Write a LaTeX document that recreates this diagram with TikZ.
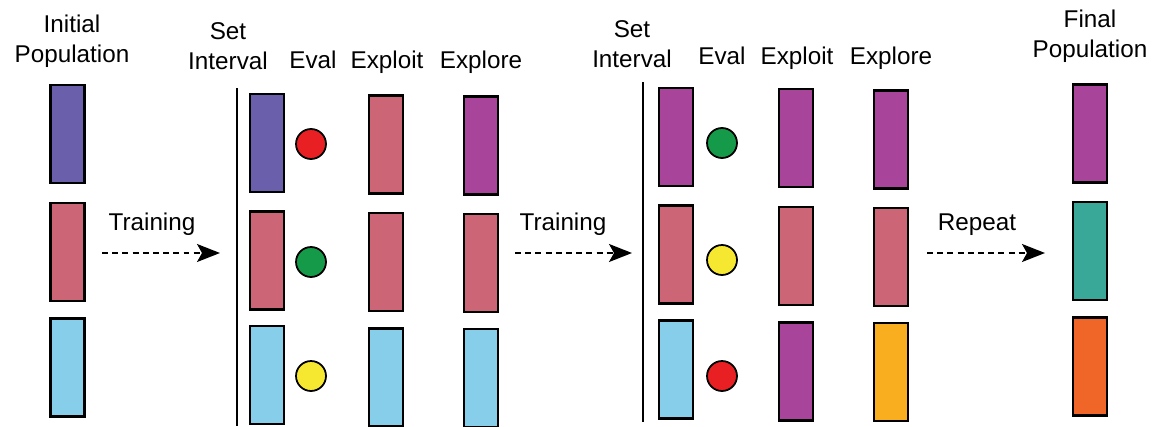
\documentclass[tikz,border=0pt]{standalone}
\usepackage{fontspec}
\setmainfont{Liberation Sans}
\usepackage{tikz}
\usetikzlibrary{positioning,arrows.meta}
\definecolor{popblue}{RGB}{106,95,170}
\definecolor{poprose}{RGB}{204,102,119}
\definecolor{popsky}{RGB}{135,206,235}
\definecolor{poppurple}{RGB}{168,68,154}
\definecolor{popteal}{RGB}{58,168,152}
\definecolor{poporange}{RGB}{240,102,40}
\definecolor{popamber}{RGB}{249,174,31}
\definecolor{evalred}{RGB}{232,32,36}
\definecolor{evalgreen}{RGB}{20,154,72}
\definecolor{evalyellow}{RGB}{246,232,48}

\tikzset{
  member/.style={draw, line width=1.2pt, minimum width=0.68cm,
    minimum height=1.96cm, inner sep=0pt, fill=#1},
  score/.style={circle, draw, line width=1pt, minimum size=0.6cm,
    inner sep=0pt, fill=#1},
  head/.style={font=\fontsize{13.8}{17}\selectfont, inner sep=0pt, align=center},
  flow/.style={dashed, dash pattern=on 3.4pt off 2.4pt, line width=0.9pt,
    -{Stealth[length=0.46cm, width=0.36cm, inset=0.1cm]}},
}

\begin{document}
\begin{tikzpicture}[x=0.02cm, y=-0.02cm]
\useasboundingbox (0,0) rectangle (1152,426);

% headings
\node[head, anchor=south] (hInit) at (72,68) {Initial\\Population};
\node[head, anchor=south] (hSetA) at (228,70) {Set\\Interval};
\node[head, anchor=base] (hEvalA) at (313,68) {Eval};
\node[head, anchor=base] (hExploitA) at (387,68) {Exploit};
\node[head, anchor=base] (hExploreA) at (481,68) {Explore};
\node[head, anchor=south] (hSetB) at (632,68) {Set\\Interval};
\node[head, anchor=base] (hEvalB) at (722,64) {Eval};
\node[head, anchor=base] (hExploitB) at (797,64) {Exploit};
\node[head, anchor=base] (hExploreB) at (891,64) {Explore};
\node[head, anchor=south] (hFinal) at (1090,63) {Final\\Population};

% initial population
\node[member=popblue] (i1) at (67.5,134) {};
\node[member=poprose] (i2) at (67.5,252) {};
\node[member=popsky] (i3) at (67.5,367.5) {};

% first interval
\draw[line width=0.8pt] (237,88) -- (237,426);
\node[member=popblue] (a1) at (267,143) {};
\node[member=poprose] (a2) at (267,260.5) {};
\node[member=popsky] (a3) at (267,375) {};
\node[score=evalred] (ea1) at (311,144) {};
\node[score=evalgreen] (ea2) at (311,262) {};
\node[score=evalyellow] (ea3) at (311,376) {};
\node[member=poprose] (xa1) at (386,144.5) {};
\node[member=poprose] (xa2) at (386,262) {};
\node[member=popsky] (xa3) at (386,377.5) {};
\node[member=poppurple] (ra1) at (481,145.5) {};
\node[member=poprose] (ra2) at (481,263) {};
\node[member=popsky] (ra3) at (481,378) {};

% second interval
\draw[line width=0.8pt] (643,82) -- (643,422);
\node[member=poppurple] (b1) at (676,137) {};
\node[member=poprose] (b2) at (676,254.5) {};
\node[member=popsky] (b3) at (676,369.5) {};
\node[score=evalgreen] (eb1) at (722,143) {};
\node[score=evalyellow] (eb2) at (722,260) {};
\node[score=evalred] (eb3) at (722,376) {};
\node[member=poppurple] (xb1) at (796,138) {};
\node[member=poprose] (xb2) at (796,256) {};
\node[member=poppurple] (xb3) at (796,371.5) {};
\node[member=poppurple] (rb1) at (891,139.5) {};
\node[member=poprose] (rb2) at (891,257) {};
\node[member=popamber] (rb3) at (891,372) {};

% final population
\node[member=poppurple] (f1) at (1090,133.5) {};
\node[member=popteal] (f2) at (1090,251) {};
\node[member=poporange] (f3) at (1090,366.5) {};

% transitions
\coordinate (tA0) at (102,253);
\coordinate (tA1) at (220,253);
\coordinate (tB0) at (515,253);
\coordinate (tB1) at (632,253);
\coordinate (tC0) at (927,253);
\coordinate (tC1) at (1045,253);
\draw[flow] (tA0) -- (tA1);
\draw[flow] (tB0) -- (tB1);
\draw[flow] (tC0) -- (tC1);
\node[head, anchor=base] (lA) at (152,230) {Training};
\node[head, anchor=base] (lB) at (563,230) {Training};
\node[head, anchor=base] (lC) at (977,230) {Repeat};
\end{tikzpicture}
\end{document}
